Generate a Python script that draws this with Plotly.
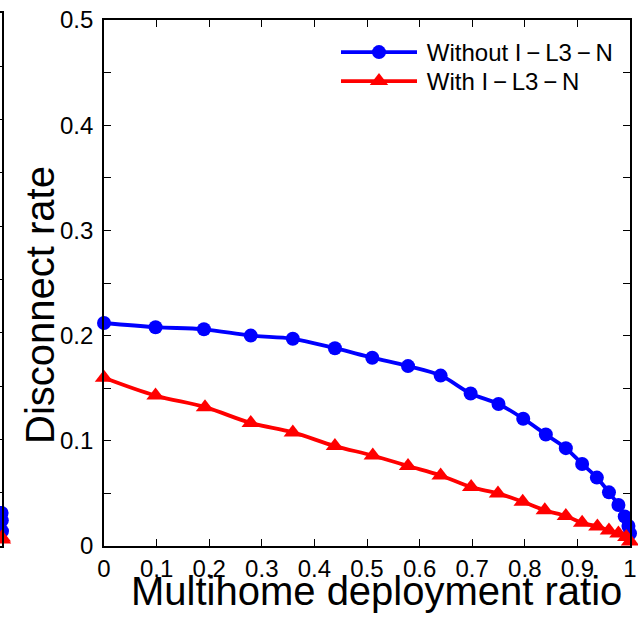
import plotly.graph_objects as go

# ---------------- data ----------------
x_ticks = [0, 0.1, 0.2, 0.3, 0.4, 0.5, 0.6, 0.7, 0.8, 0.9, 1.0]
x_tick_text = ["0", "0.1", "0.2", "0.3", "0.4", "0.5", "0.6", "0.7", "0.8", "0.9", "1"]
y_ticks = [0, 0.05, 0.1, 0.15, 0.2, 0.25, 0.3, 0.35, 0.4, 0.45, 0.5]
y_tick_text = ["0", "", "0.1", "", "0.2", "", "0.3", "", "0.4", "", "0.5"]

without_x = [0, 0.098, 0.190, 0.279, 0.359, 0.439, 0.510, 0.578, 0.640, 0.697, 0.750,
             0.797, 0.840, 0.878, 0.909, 0.937, 0.960, 0.978, 0.990, 0.997, 1.0]
without_y = [0.212, 0.208, 0.206, 0.200, 0.197, 0.188, 0.179, 0.171, 0.162, 0.145, 0.135,
             0.121, 0.106, 0.093, 0.078, 0.065, 0.051, 0.039, 0.028, 0.019, 0.012]

with_x = [0, 0.098, 0.192, 0.279, 0.359, 0.439, 0.511, 0.578, 0.640, 0.698, 0.749,
          0.796, 0.838, 0.878, 0.909, 0.938, 0.960, 0.978, 0.993, 1.0]
with_y = [0.160, 0.143, 0.132, 0.117, 0.108, 0.095, 0.086, 0.076, 0.067, 0.056, 0.050,
          0.042, 0.034, 0.0285, 0.022, 0.0186, 0.0147, 0.012, 0.0086, 0.0043]

# neighbouring (cropped) panel on the left edge: only its last points are visible
left_without_x = [0.98, 0.99, 1.0]
left_without_y = [0.031, 0.024, 0.014]
left_with_x = [0.99, 1.0]
left_with_y = [0.008, 0.006]
left_x_ticks = [1.0]
left_x_tick_text = ["1"]

series_names = ["Without I\u2009\u2212\u2009L3\u2009\u2212\u2009N", "With I\u2009\u2212\u2009L3\u2009\u2212\u2009N"]
x_title = "Multihome deployment ratio"
y_title = "Disconnect rate"

BLUE = "#0000FF"
RED = "#FF0000"
FONT = "Liberation Sans, Arial, Helvetica, sans-serif"
PAD = "\u2009"  # small gap between legend symbol and its text

LW = 3.8
CS = 14   # circle size
TS = 16   # triangle size

fig = go.Figure()

fig.add_trace(go.Scatter(
    x=without_x, y=without_y, name=PAD + series_names[0], mode="lines+markers",
    line=dict(color=BLUE, width=LW, shape="spline", smoothing=1.0),
    marker=dict(symbol="circle", size=CS, color=BLUE),
    cliponaxis=False, xaxis="x", yaxis="y", legend="legend"))
fig.add_trace(go.Scatter(
    x=with_x, y=with_y, name=PAD + series_names[1], mode="lines+markers",
    line=dict(color=RED, width=LW, shape="spline", smoothing=1.0),
    marker=dict(symbol="triangle-up", size=TS, color=RED),
    cliponaxis=False, xaxis="x", yaxis="y", legend="legend2"))

fig.add_trace(go.Scatter(
    x=left_without_x, y=left_without_y, mode="lines+markers", showlegend=False,
    line=dict(color=BLUE, width=LW), marker=dict(symbol="circle", size=CS, color=BLUE),
    cliponaxis=False, xaxis="x2", yaxis="y2"))
fig.add_trace(go.Scatter(
    x=left_with_x, y=left_with_y, mode="lines+markers", showlegend=False,
    line=dict(color=RED, width=LW), marker=dict(symbol="triangle-up", size=TS, color=RED),
    cliponaxis=False, xaxis="x2", yaxis="y2"))

W, H = 638, 621
axis_common = dict(
    showline=True, linecolor="black", linewidth=1.6,
    ticks="inside", ticklen=7, tickwidth=1.3, tickcolor="black",
    showgrid=False, zeroline=False, automargin=False,
    tickfont=dict(family=FONT, size=24, color="black"),
)
legend_common = dict(xanchor="left", yanchor="top", bgcolor="rgba(0,0,0,0)",
                     borderwidth=0, itemwidth=76,
                     font=dict(family=FONT, size=24, color="black"))

fig.update_layout(
    width=W, height=H,
    margin=dict(l=0, r=0, t=0, b=0, autoexpand=False),
    paper_bgcolor="white", plot_bgcolor="white",
    font=dict(family=FONT, color="black"),
    xaxis=dict(domain=[104 / W, 630 / W], range=[0, 1], tickvals=x_ticks,
               ticktext=x_tick_text, anchor="y", mirror="ticks", **axis_common),
    yaxis=dict(domain=[(H - 546) / H, (H - 20) / H], range=[0, 0.5], tickvals=y_ticks,
               ticktext=y_tick_text, anchor="x", mirror="ticks", ticklabelstandoff=4,
               **axis_common),
    xaxis2=dict(domain=[0, 2 / W], range=[0.9, 1.0], tickvals=left_x_ticks,
                ticktext=left_x_tick_text, anchor="y2", mirror="ticks", **axis_common),
    yaxis2=dict(domain=[(H - 546) / H, (H - 13) / H], range=[0, 0.5], tickvals=y_ticks,
                showticklabels=False, anchor="x2", side="right", mirror=False,
                **axis_common),
    legend=dict(x=336 / W, y=1 - 30 / H, **legend_common),
    legend2=dict(x=336 / W, y=1 - 59 / H, **legend_common),
    annotations=[
        dict(text=x_title, x=376 / W, y=1 - 591 / H, xref="paper", yref="paper",
             xanchor="center", yanchor="middle", showarrow=False,
             font=dict(family=FONT, size=40, color="black")),
        dict(text=y_title, x=40 / W, y=1 - 305 / H, xref="paper", yref="paper",
             xanchor="center", yanchor="middle", showarrow=False, textangle=-90,
             font=dict(family=FONT, size=40, color="black")),
    ],
)

fig.write_html("out.html")
